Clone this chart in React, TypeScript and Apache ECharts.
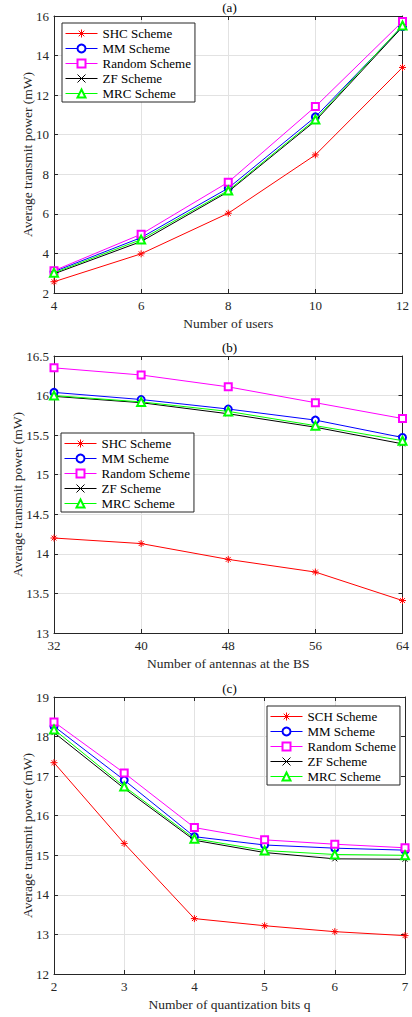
import React, { useEffect, useRef } from "react";
import * as echarts from "echarts";

// (a) Number of users
const usersX = [4, 6, 8, 10, 12];
const aSHC = [2.57, 3.98, 6.03, 8.98, 13.4];
const aMM = [3.08, 4.8, 7.3, 10.9, 15.47];
const aRandom = [3.13, 4.97, 7.6, 11.42, 15.72];
const aZF = [2.97, 4.6, 7.12, 10.7, 15.45];
const aMRC = [3.02, 4.7, 7.18, 10.77, 15.52];

// (b) Number of antennas at the BS
const antennasX = [32, 40, 48, 56, 64];
const bSHC = [14.2, 14.13, 13.93, 13.77, 13.41];
const bMM = [16.04, 15.95, 15.83, 15.69, 15.47];
const bRandom = [16.35, 16.26, 16.11, 15.91, 15.71];
const bZF = [15.99, 15.91, 15.77, 15.6, 15.39];
const bMRC = [16.0, 15.92, 15.8, 15.62, 15.43];

// (c) Number of quantization bits q
const bitsX = [2, 3, 4, 5, 6, 7];
const cSCH = [17.34, 15.3, 13.4, 13.22, 13.07, 12.97];
const cMM = [18.26, 16.9, 15.47, 15.26, 15.18, 15.13];
const cRandom = [18.37, 17.08, 15.7, 15.39, 15.28, 15.19];
const cZF = [18.1, 16.69, 15.38, 15.07, 14.91, 14.9];
const cMRC = [18.18, 16.74, 15.42, 15.12, 15.02, 15.0];

const panelTitles = ["(a)", "(b)", "(c)"];
const xNames = ["Number of users", "Number of antennas at the BS", "Number of quantization bits q"];
const yName = "Average transmit power (mW)";
const namesAB = ["SHC Scheme", "MM Scheme", "Random Scheme", "ZF Scheme", "MRC Scheme"];
const namesC = ["SCH Scheme", "MM Scheme", "Random Scheme", "ZF Scheme", "MRC Scheme"];

const FONT = "Liberation Serif";
const AX = "#262626";
const GRIDC = "#e2e2e2";

const STAR = "path://M5,0 L5,10 M0,5 L10,5 M1.5,1.5 L8.5,8.5 M1.5,8.5 L8.5,1.5";
const CROSS = "path://M0,0 L10,10 M0,10 L10,0";

const styles = [
  { color: "#ff0000", symbol: STAR, size: 7, stroke: true },
  { color: "#0000ff", symbol: "emptyCircle", size: 7, stroke: false },
  { color: "#ff00ff", symbol: "emptyRect", size: 7, stroke: false },
  { color: "#000000", symbol: CROSS, size: 5, stroke: true },
  { color: "#00ff00", symbol: "emptyTriangle", size: 8, stroke: false },
];

const grids = [
  { top: 16, height: 277 },
  { top: 356, height: 277 },
  { top: 697, height: 277 },
];

const xRanges = [
  { min: 4, max: 12, interval: 2 },
  { min: 32, max: 64, interval: 8 },
  { min: 2, max: 7, interval: 1 },
];
const yRanges = [
  { min: 2, max: 16, interval: 2 },
  { min: 13, max: 16.5, interval: 0.5 },
  { min: 12, max: 19, interval: 1 },
];
const yNameGaps = [20, 30, 20];

const legendPos = [
  { left: 62, top: 23 },
  { left: 61, top: 433 },
  { left: 267, top: 706 },
];

export default function App() {
  const ref = useRef<HTMLDivElement>(null);
  useEffect(() => {
    document.body.style.margin = "0";
    if (!ref.current) return;
    const chart = echarts.init(ref.current, undefined, { renderer: "svg" });

    const panels = [
      { x: usersX, names: namesAB, ys: [aSHC, aMM, aRandom, aZF, aMRC] },
      { x: antennasX, names: namesAB, ys: [bSHC, bMM, bRandom, bZF, bMRC] },
      { x: bitsX, names: namesC, ys: [cSCH, cMM, cRandom, cZF, cMRC] },
    ];

    const xAxis: any[] = [];
    const yAxis: any[] = [];
    const series: any[] = [];
    const legend: any[] = [];
    const graphic: any[] = [];

    const axisLine = { show: true, onZero: false, lineStyle: { color: AX, width: 1 } };
    const tick = { show: true, inside: true, length: 4, lineStyle: { color: AX, width: 1 } };
    const labelStyle = { color: AX, fontFamily: FONT, fontSize: 13 };

    panels.forEach((p, i) => {
      xAxis.push({
        gridIndex: i,
        type: "value",
        position: "bottom",
        ...xRanges[i],
        axisLine,
        axisTick: tick,
        axisLabel: { ...labelStyle, margin: 6 },
        splitLine: { show: true, lineStyle: { color: GRIDC, width: 1 } },
        name: xNames[i],
        nameLocation: "middle",
        nameGap: 23,
        nameMoveOverlap: false,
        nameTextStyle: { color: AX, fontFamily: FONT, fontSize: 13.5 },
      });
      xAxis.push({
        gridIndex: i,
        type: "value",
        position: "top",
        ...xRanges[i],
        axisLine,
        axisTick: tick,
        axisLabel: { show: false },
        splitLine: { show: false },
      });
      yAxis.push({
        gridIndex: i,
        type: "value",
        position: "left",
        ...yRanges[i],
        axisLine,
        axisTick: tick,
        axisLabel: { ...labelStyle, margin: 5 },
        splitLine: { show: true, lineStyle: { color: GRIDC, width: 1 } },
        name: yName,
        nameLocation: "middle",
        nameGap: yNameGaps[i],
        nameMoveOverlap: false,
        nameTextStyle: { color: AX, fontFamily: FONT, fontSize: 13.5 },
      });
      yAxis.push({
        gridIndex: i,
        type: "value",
        position: "right",
        ...yRanges[i],
        axisLine,
        axisTick: tick,
        axisLabel: { show: false },
        splitLine: { show: false },
      });

      p.ys.forEach((vals, k) => {
        const s = styles[k];
        series.push({
          type: "line",
          name: p.names[k],
          xAxisIndex: 2 * i,
          yAxisIndex: 2 * i,
          data: p.x.map((xv, j) => [xv, vals[j]]),
          symbol: s.symbol,
          symbolSize: s.size,
          showAllSymbol: true,
          lineStyle: { color: s.color, width: 1 },
          itemStyle: s.stroke
            ? { color: s.color, borderColor: s.color, borderWidth: 1 }
            : { color: s.color, borderWidth: 1 },
          emphasis: { disabled: true },
          z: 2 + k,
        });
      });

      legend.push({
        ...legendPos[i],
        orient: "vertical",
        data: p.names,
        selectedMode: false,
        itemWidth: 32,
        itemHeight: 10,
        itemGap: 2,
        padding: [4, 4, 2, 3],
        backgroundColor: "#ffffff",
        borderColor: AX,
        borderWidth: 1,
        borderRadius: 0,
        itemStyle: { borderWidth: 1 },
        lineStyle: { width: 1 },
        textStyle: { color: "#000", fontFamily: FONT, fontSize: 13 },
      });

      graphic.push({
        type: "text",
        x: 229.5,
        y: grids[i].top - 9,
        style: {
          text: panelTitles[i],
          align: "center",
          verticalAlign: "middle",
          font: `13px ${FONT}`,
          fill: "#000",
        },
      });
    });

    chart.setOption({
      animation: false,
      backgroundColor: "#ffffff",
      grid: grids.map((g) => ({ left: 54, right: 7, ...g })),
      xAxis,
      yAxis,
      series,
      legend,
      graphic,
    });
    return () => chart.dispose();
  }, []);
  return <div ref={ref} style={{ width: 412, height: 1017 }} />;
}
